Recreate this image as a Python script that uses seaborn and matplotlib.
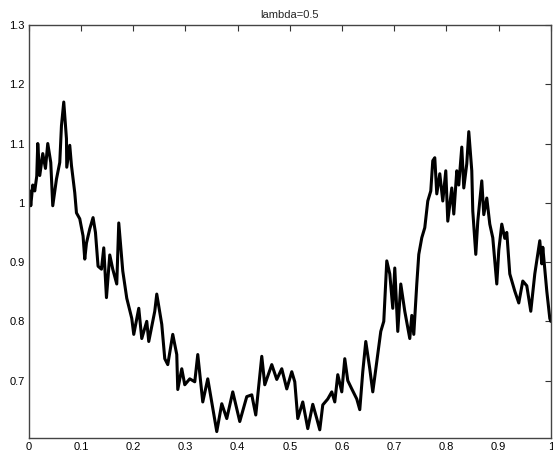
import numpy as np
import pandas as pd
import matplotlib
matplotlib.use("Agg")
import matplotlib.pyplot as plt
import seaborn as sns

# values (pixel column -> value)
px = [29, 30, 31, 33, 35, 37, 38, 40, 43, 45.7, 48, 51, 53, 56.7, 60, 61.7, 64, 66.7, 67, 70,
      71.7, 75, 76.7, 80, 83.3, 85, 86.7, 90, 93.3, 95.7, 98.3, 101.7, 104, 106.7, 110, 113,
      115.7, 117, 119, 123, 127, 132, 134, 139, 142, 147, 149, 153, 155, 157, 162, 165, 168,
      173, 177, 178, 182, 185, 190, 195, 198, 203, 208, 217, 222, 227, 233, 240, 247, 252,
      256, 262, 265, 272, 277, 282, 287, 292, 295, 298, 303, 308, 313, 317, 320, 323, 328,
      332, 335, 338, 342, 345, 348, 352, 357, 360, 363, 366, 370, 373, 378, 381, 384, 387,
      390, 393, 395, 398, 401, 405, 410, 412, 414, 417, 419, 422, 425, 428, 431, 433, 435,
      437, 440, 443, 446, 448, 452, 454, 457, 459, 462, 464, 467, 469, 472, 473, 476, 478,
      482, 484, 487, 490, 493, 497, 499, 502, 505, 507, 510, 515, 519, 523, 527, 531, 535,
      540, 542, 543, 547, 550, 551]
vals = [1.000, 1.020, 0.995, 1.030, 1.020, 1.045, 1.100, 1.046, 1.083, 1.058, 1.100, 1.068,
        0.995, 1.040, 1.068, 1.130, 1.170, 1.108, 1.060, 1.097, 1.063, 1.017, 0.983, 0.973,
        0.944, 0.905, 0.932, 0.956, 0.975, 0.950, 0.893, 0.888, 0.924, 0.840, 0.912, 0.888,
        0.871, 0.863, 0.966, 0.885, 0.839, 0.805, 0.778, 0.822, 0.771, 0.800, 0.766, 0.800,
        0.817, 0.846, 0.795, 0.737, 0.727, 0.778, 0.744, 0.685, 0.720, 0.693, 0.703, 0.698,
        0.744, 0.664, 0.703, 0.614, 0.661, 0.636, 0.681, 0.631, 0.673, 0.676, 0.642, 0.741,
        0.693, 0.727, 0.702, 0.720, 0.686, 0.715, 0.698, 0.636, 0.664, 0.619, 0.660, 0.636,
        0.617, 0.659, 0.669, 0.681, 0.664, 0.710, 0.681, 0.737, 0.700, 0.686, 0.669, 0.651,
        0.715, 0.766, 0.720, 0.681, 0.744, 0.783, 0.800, 0.902, 0.880, 0.822, 0.890, 0.783,
        0.863, 0.817, 0.771, 0.810, 0.778, 0.863, 0.913, 0.941, 0.958, 1.003, 1.020, 1.071,
        1.076, 1.015, 1.049, 1.003, 1.054, 0.969, 1.025, 0.981, 1.054, 1.030, 1.094, 1.025,
        1.066, 1.120, 1.054, 0.986, 0.913, 0.969, 1.037, 0.980, 1.008, 0.964, 0.941, 0.863,
        0.920, 0.964, 0.940, 0.950, 0.880, 0.851, 0.831, 0.868, 0.860, 0.817, 0.880, 0.936,
        0.897, 0.925, 0.851, 0.805, 0.800]

x_ticks = [0, 0.1, 0.2, 0.3, 0.4, 0.5, 0.6, 0.7, 0.8, 0.9, 1]
x_labels = ["0", "0.1", "0.2", "0.3", "0.4", "0.5", "0.6", "0.7", "0.8", "0.9", "1"]
y_ticks = [0.7, 0.8, 0.9, 1.0, 1.1, 1.2, 1.3]
y_labels = ["0.7", "0.8", "0.9", "1", "1.1", "1.2", "1.3"]

df = pd.DataFrame({"t": (np.array(px) - 29) / 522.0, "value": vals})

sns.set_theme(style="white")
plt.rcParams["font.family"] = ["Liberation Sans", "DejaVu Sans"]

fig = plt.figure(figsize=(5.53, 4.54), dpi=100)
ax = fig.add_axes([0.052, 0.035, 0.944, 0.910])

sns.lineplot(data=df, x="t", y="value", estimator=None, sort=False,
             color="black", linewidth=2.2, ax=ax)

ax.set_xlim(0, 1)
ax.set_ylim(0.603, 1.3)
ax.set_xticks(x_ticks)
ax.set_xticklabels(x_labels)
ax.set_yticks(y_ticks)
ax.set_yticklabels(y_labels)
ax.tick_params(direction="in", length=4, width=0.8, colors="#333333",
               labelsize=8, labelcolor="black", top=True, right=True, pad=3)
for s in ax.spines.values():
    s.set_color("#444444")
    s.set_linewidth(1.0)
ax.set_xlabel("")
ax.set_ylabel("")
ax.set_title("lambda=0.5", fontsize=8, pad=5)

plt.savefig("out.png", dpi=100)
